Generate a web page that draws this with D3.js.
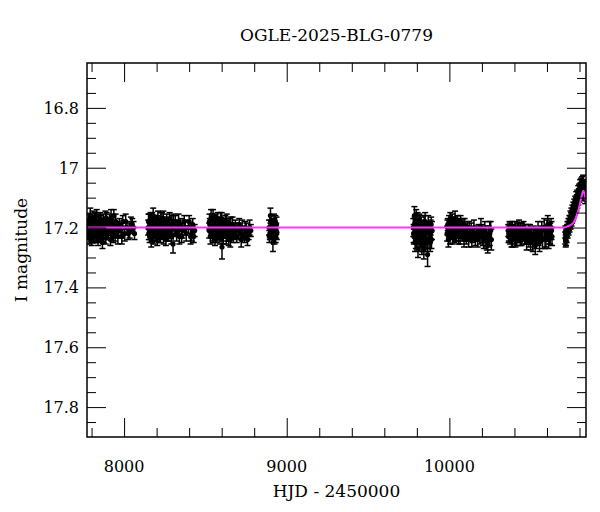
<!DOCTYPE html>
<html><head><meta charset="utf-8">
<script src="https://cdn.jsdelivr.net/npm/d3@7"></script>
<style>body{margin:0;background:#fff}</style>
</head><body>
<svg id="c" width="600" height="512"></svg>
<script>
const title = "OGLE-2025-BLG-0779";
const xLabel = "HJD - 2450000";
const yLabel = "I magnitude";
const xDomain = [7772, 10840];
const yDomain = [16.65, 17.9];
const xMajorTicks = [8000, 9000, 10000];
const xMinorTicks = [7800,8200,8400,8600,8800,9200,9400,9600,9800,10200,10400,10600,10800];
const yMajorTicks = [16.8, 17, 17.2, 17.4, 17.6, 17.8];
const yTickLabels = ["16.8","17","17.2","17.4","17.6","17.8"];
const yMinorTicks = [16.7,16.75,16.85,16.9,16.95,17.05,17.1,17.15,17.25,17.3,17.35,17.45,17.5,17.55,17.65,17.7,17.75,17.85];

// [HJD-2450000, I mag, error]
const season1 = [[7779,17.21,.025],[7783,17.19,.02],[7786,17.23,.025],[7790,17.20,.03],[7794,17.18,.02],[7797,17.22,.025],[7801,17.24,.02],[7805,17.19,.03],[7808,17.17,.025],[7812,17.21,.02],[7816,17.20,.025],[7820,17.23,.02],[7824,17.18,.03],[7828,17.22,.025],[7832,17.16,.02],[7836,17.20,.025],[7840,17.24,.02],[7845,17.19,.025],[7849,17.21,.03],[7853,17.17,.02],[7858,17.22,.025],[7862,17.20,.02],[7867,17.25,.02],[7872,17.18,.025],[7877,17.21,.03],[7882,17.19,.02],[7887,17.23,.025],[7893,17.17,.02],[7898,17.20,.025],[7904,17.22,.02],[7910,17.18,.025],[7916,17.24,.02],[7923,17.21,.025],[7930,17.19,.03],[7937,17.16,.02],[7945,17.22,.025],[7953,17.20,.02],[7962,17.23,.025],[7971,17.19,.02],[7981,17.21,.025],[7992,17.18,.02],[8004,17.22,.025],[8018,17.20,.02],[8034,17.21,.025],[8050,17.19,.02],[8064,17.22,.02],
  [7781,17.18,.025],[7788,17.22,.02],[7792,17.16,.025],[7799,17.20,.02],[7803,17.22,.03],[7810,17.19,.025],[7818,17.17,.02],[7826,17.21,.025],[7834,17.23,.02],[7843,17.18,.025],[7851,17.22,.02],[7856,17.19,.03],[7865,17.21,.025],[7875,17.23,.02],[7885,17.17,.025],[7896,17.22,.02],[7907,17.20,.025],[7920,17.17,.03],[7934,17.23,.02],[7948,17.18,.025],[7966,17.21,.02],[7986,17.23,.025],[8010,17.18,.025],[8026,17.22,.02],[8042,17.19,.025],[8058,17.20,.02]];
const season2 = [[8148,17.20,.025],[8152,17.22,.02],[8155,17.18,.025],[8159,17.21,.03],[8163,17.17,.02],[8167,17.245,.02],[8171,17.19,.025],[8175,17.23,.02],[8179,17.16,.025],[8183,17.21,.02],[8187,17.19,.03],[8191,17.22,.025],[8195,17.18,.02],[8200,17.20,.025],[8204,17.24,.02],[8208,17.17,.025],[8213,17.21,.02],[8217,17.19,.025],[8222,17.23,.02],[8226,17.18,.03],[8231,17.20,.025],[8236,17.22,.02],[8241,17.17,.025],[8246,17.21,.02],[8251,17.19,.025],[8257,17.24,.02],[8262,17.18,.025],[8268,17.20,.02],[8274,17.22,.025],[8280,17.17,.02],[8287,17.21,.025],[8294,17.19,.03],[8301,17.255,.03],[8308,17.20,.025],[8315,17.18,.02],[8323,17.22,.025],[8331,17.20,.02],[8340,17.23,.025],[8349,17.19,.02],[8359,17.21,.025],[8370,17.18,.02],[8382,17.22,.025],[8395,17.20,.02],[8409,17.23,.025],[8422,17.19,.02],[8434,17.21,.02],
  [8150,17.18,.025],[8157,17.23,.02],[8165,17.20,.025],[8173,17.17,.02],[8181,17.23,.025],[8189,17.20,.02],[8198,17.22,.025],[8206,17.19,.03],[8215,17.23,.02],[8224,17.20,.025],[8233,17.17,.02],[8243,17.23,.025],[8254,17.20,.02],[8265,17.22,.025],[8277,17.19,.02],[8290,17.23,.025],[8304,17.18,.025],[8319,17.21,.02],[8335,17.18,.025],[8354,17.23,.02],[8376,17.20,.025],[8400,17.18,.02],[8416,17.22,.025],[8428,17.23,.02]];
const season3 = [[8523,17.21,.025],[8527,17.19,.02],[8531,17.23,.025],[8535,17.17,.03],[8539,17.20,.02],[8543,17.22,.025],[8547,17.16,.02],[8551,17.21,.025],[8555,17.19,.03],[8559,17.24,.02],[8563,17.18,.025],[8567,17.20,.02],[8571,17.22,.025],[8575,17.17,.02],[8580,17.21,.025],[8584,17.19,.02],[8589,17.23,.025],[8593,17.18,.03],[8598,17.20,.02],[8602,17.265,.04],[8607,17.22,.025],[8612,17.19,.02],[8617,17.21,.025],[8622,17.18,.02],[8628,17.23,.025],[8634,17.20,.02],[8640,17.22,.025],[8646,17.19,.02],[8653,17.24,.025],[8660,17.21,.02],[8667,17.19,.025],[8675,17.22,.02],[8684,17.20,.025],[8693,17.23,.02],[8703,17.21,.025],[8714,17.22,.02],[8726,17.20,.025],[8739,17.23,.02],[8752,17.21,.025],[8766,17.22,.02],[8779,17.21,.02],
  [8525,17.18,.025],[8533,17.21,.02],[8541,17.18,.025],[8549,17.23,.02],[8557,17.20,.025],[8565,17.23,.02],[8573,17.19,.025],[8582,17.22,.02],[8591,17.20,.025],[8600,17.17,.02],[8610,17.23,.025],[8620,17.20,.02],[8631,17.18,.025],[8643,17.24,.02],[8656,17.19,.025],[8671,17.23,.02],[8688,17.21,.025],[8708,17.19,.02],[8720,17.24,.025],[8745,17.20,.02],[8759,17.24,.02],[8772,17.20,.025]];
const season4 = [[8891,17.20,.025],[8896,17.22,.02],[8900,17.16,.025],[8905,17.21,.03],[8910,17.19,.02],[8915,17.25,.03],[8920,17.20,.02],[8925,17.23,.025],[8930,17.18,.02],[8935,17.21,.025],[8939,17.22,.02],
  [8893,17.23,.02],[8902,17.20,.025],[8912,17.22,.02],[8922,17.18,.025],[8932,17.23,.02],[8937,17.19,.025]];
const season5 = [[9778,17.20,.03],[9782,17.23,.025],[9785,17.16,.03],[9789,17.25,.03],[9792,17.21,.025],[9796,17.17,.03],[9800,17.24,.03],[9803,17.20,.025],[9807,17.27,.03],[9811,17.22,.03],[9815,17.18,.025],[9819,17.25,.03],[9823,17.21,.03],[9827,17.19,.025],[9831,17.26,.03],[9835,17.23,.03],[9839,17.20,.025],[9843,17.27,.035],[9847,17.22,.03],[9851,17.18,.03],[9855,17.25,.03],[9860,17.21,.025],[9866,17.29,.04],[9870,17.19,.03],[9875,17.24,.03],[9880,17.22,.03],[9885,17.20,.025],[9890,17.24,.03],[9893,17.21,.03],
  [9780,17.22,.03],[9787,17.19,.025],[9794,17.24,.03],[9798,17.21,.025],[9805,17.18,.03],[9813,17.23,.025],[9821,17.19,.03],[9829,17.22,.025],[9837,17.25,.03],[9845,17.19,.03],[9853,17.22,.025],[9862,17.24,.03],[9872,17.21,.03],[9882,17.25,.03],[9888,17.19,.025]];
const season6 = [[9986,17.22,.025],[9990,17.19,.02],[9994,17.24,.025],[9998,17.18,.02],[10002,17.21,.025],[10006,17.17,.02],[10010,17.20,.025],[10014,17.22,.02],[10018,17.18,.025],[10022,17.21,.02],[10026,17.19,.025],[10031,17.23,.02],[10035,17.17,.025],[10040,17.20,.02],[10045,17.22,.025],[10050,17.18,.02],[10055,17.21,.025],[10060,17.19,.02],[10066,17.23,.025],[10072,17.20,.02],[10078,17.22,.025],[10084,17.19,.02],[10090,17.24,.025],[10097,17.21,.02],[10104,17.23,.025],[10111,17.20,.02],[10118,17.24,.025],[10126,17.22,.02],[10134,17.21,.025],[10142,17.23,.02],[10151,17.20,.025],[10160,17.24,.02],[10169,17.22,.025],[10179,17.21,.02],[10189,17.23,.025],[10200,17.22,.03],[10212,17.24,.03],[10224,17.23,.035],[10236,17.25,.035],[10248,17.22,.04],[10258,17.24,.035],
  [9988,17.20,.025],[9996,17.21,.02],[10004,17.23,.025],[10012,17.19,.02],[10020,17.23,.025],[10028,17.20,.02],[10037,17.22,.025],[10047,17.20,.02],[10057,17.23,.025],[10069,17.18,.02],[10081,17.21,.025],[10094,17.19,.02],[10108,17.22,.025],[10122,17.20,.02],[10138,17.24,.025],[10156,17.22,.02],[10174,17.24,.025],[10194,17.20,.03],[10206,17.23,.03],[10218,17.21,.03],[10230,17.24,.035],[10242,17.23,.035],[10254,17.21,.03]];
const season7 = [[10362,17.21,.02],[10366,17.22,.025],[10370,17.20,.02],[10374,17.23,.025],[10378,17.21,.02],[10382,17.24,.025],[10386,17.20,.02],[10390,17.22,.025],[10395,17.21,.02],[10399,17.23,.025],[10404,17.20,.02],[10408,17.22,.025],[10413,17.24,.02],[10418,17.21,.025],[10423,17.22,.02],[10428,17.20,.025],[10433,17.23,.02],[10438,17.21,.025],[10444,17.24,.02],[10450,17.22,.025],[10456,17.20,.02],[10462,17.23,.025],[10468,17.21,.02],[10475,17.25,.025],[10482,17.22,.02],[10489,17.24,.025],[10496,17.21,.02],[10504,17.23,.025],[10512,17.25,.03],[10520,17.22,.025],[10528,17.26,.03],[10536,17.23,.025],[10545,17.21,.03],[10554,17.25,.03],[10563,17.22,.025],[10573,17.24,.03],[10583,17.20,.03],[10594,17.23,.035],[10605,17.19,.03],[10615,17.22,.035],[10625,17.20,.03],[10631,17.23,.03],
  [10364,17.23,.02],[10372,17.21,.025],[10380,17.22,.02],[10388,17.24,.025],[10397,17.22,.02],[10406,17.24,.025],[10416,17.23,.02],[10426,17.21,.025],[10436,17.24,.02],[10447,17.21,.025],[10459,17.22,.02],[10472,17.23,.025],[10486,17.21,.02],[10500,17.25,.025],[10516,17.23,.025],[10532,17.24,.03],[10549,17.23,.03],[10568,17.21,.03],[10588,17.24,.03],[10600,17.21,.035],[10610,17.24,.03],[10620,17.22,.035],[10628,17.21,.03]];
const season8 = [[10712,17.235,.02],[10715,17.245,.02],[10718,17.225,.02],[10721,17.23,.02],[10724,17.21,.02],[10727,17.215,.02],[10730,17.20,.02],[10733,17.205,.02],[10736,17.19,.02],[10739,17.195,.02],[10742,17.18,.02],[10745,17.185,.02],[10748,17.17,.02],[10751,17.175,.02],[10754,17.165,.02],[10757,17.16,.02],[10760,17.155,.02],[10763,17.15,.02],[10766,17.145,.02],[10769,17.14,.02],[10772,17.135,.02],[10775,17.13,.02],[10778,17.12,.02],[10781,17.125,.02],[10784,17.11,.02],[10787,17.115,.02],[10790,17.10,.02],[10793,17.105,.02],[10796,17.09,.02],[10799,17.095,.02],[10802,17.08,.02],[10805,17.085,.02],[10808,17.07,.02],[10811,17.075,.02],[10814,17.065,.02],[10817,17.07,.02],[10820,17.06,.02],[10823,17.065,.02],[10826,17.07,.02],[10829,17.08,.02],[10832,17.09,.02],[10835,17.10,.02],
  [10713,17.215,.02],[10717,17.24,.02],[10720,17.215,.02],[10726,17.20,.02],[10732,17.19,.02],[10738,17.18,.02],[10744,17.165,.02],[10750,17.155,.02],[10756,17.145,.02],[10762,17.135,.02],[10768,17.125,.02],[10774,17.115,.02],[10780,17.10,.02],[10786,17.095,.02],[10792,17.08,.02],[10798,17.075,.02],[10804,17.06,.02],[10810,17.055,.02],[10816,17.05,.02],[10822,17.045,.02],[10828,17.06,.02],[10834,17.08,.02],[10838,17.09,.02]];

// model curve
const modelHJD = [7772,10700,10722,10740,10753,10763,10773,10784,10794,10802,10810,10817,10824,10830,10835,10840];
const modelMag = [17.2,17.2,17.197,17.193,17.189,17.183,17.174,17.158,17.141,17.122,17.102,17.086,17.077,17.085,17.098,17.113];

const seasons = [season1,season2,season3,season4,season5,season6,season7,season8];

const svg = d3.select("#c");
const L=87,R=586,T=63,B=437;
const x = d3.scaleLinear().domain(xDomain).range([L,R]);
const y = d3.scaleLinear().domain(yDomain).range([T,B]);
const font = "'DejaVu Serif', serif";

svg.append("defs").append("clipPath").attr("id","clip")
  .append("rect").attr("x",L).attr("y",T).attr("width",R-L).attr("height",B-T);

const g = svg.append("g").attr("clip-path","url(#clip)");
const pts = seasons.flat();
const eb = g.append("g").attr("stroke","#000").attr("stroke-width",1.5).attr("fill","none");
pts.forEach(d=>{
  const xx=x(d[0]), y1=y(d[1]-d[2]), y2=y(d[1]+d[2]);
  eb.append("line").attr("x1",xx).attr("x2",xx).attr("y1",y1).attr("y2",y2);
  eb.append("line").attr("x1",xx-3).attr("x2",xx+3).attr("y1",y1).attr("y2",y1);
  eb.append("line").attr("x1",xx-3).attr("x2",xx+3).attr("y1",y2).attr("y2",y2);
});
g.append("g").selectAll("circle").data(pts).join("circle")
  .attr("cx",d=>x(d[0])).attr("cy",d=>y(d[1])).attr("r",2.6).attr("fill","#000");

const model = modelHJD.map((t,i)=>[t,modelMag[i]]);
g.append("path").datum(model)
  .attr("d", d3.line().x(d=>x(d[0])).y(d=>y(d[1])).curve(d3.curveMonotoneX))
  .attr("fill","none").attr("stroke","#ff33ff").attr("stroke-width",2);

// axes (ticks inward on all four sides)
function ax(gen, tr, vals, size){
  svg.append("g").attr("transform",tr)
    .call(gen.tickValues(vals).tickSize(size).tickFormat(""))
    .call(s=>{s.select(".domain").remove(); s.selectAll("line").attr("stroke","#000").attr("stroke-width",1);});
}
ax(d3.axisBottom(x), `translate(0,${B})`, xMajorTicks, -19);
ax(d3.axisBottom(x), `translate(0,${B})`, xMinorTicks, -9);
ax(d3.axisTop(x), `translate(0,${T})`, xMajorTicks, -19);
ax(d3.axisTop(x), `translate(0,${T})`, xMinorTicks, -9);
ax(d3.axisLeft(y), `translate(${L},0)`, yMajorTicks, -19);
ax(d3.axisLeft(y), `translate(${L},0)`, yMinorTicks, -9);
ax(d3.axisRight(y), `translate(${R},0)`, yMajorTicks, -19);
ax(d3.axisRight(y), `translate(${R},0)`, yMinorTicks, -9);

svg.append("rect").attr("x",L).attr("y",T).attr("width",R-L).attr("height",B-T)
  .attr("fill","none").attr("stroke","#000").attr("stroke-width",1.5);

svg.append("g").selectAll("text").data(xMajorTicks).join("text")
  .attr("x",d=>x(d)).attr("y",472).attr("text-anchor","middle")
  .attr("font-family",font).attr("font-size",16).text(d=>d);
svg.append("g").selectAll("text").data(yMajorTicks).join("text")
  .attr("x",79).attr("y",d=>y(d)+6).attr("text-anchor","end")
  .attr("font-family",font).attr("font-size",16).text((d,i)=>yTickLabels[i]);

svg.append("text").attr("x",(L+R)/2).attr("y",41).attr("text-anchor","middle")
  .attr("font-family",font).attr("font-size",17).text(title);
svg.append("text").attr("x",(L+R)/2).attr("y",497).attr("text-anchor","middle")
  .attr("font-family",font).attr("font-size",17).text(xLabel);
svg.append("text").attr("transform",`translate(27,${(T+B)/2}) rotate(-90)`).attr("text-anchor","middle")
  .attr("font-family",font).attr("font-size",17).text(yLabel);
</script>
</body></html>
